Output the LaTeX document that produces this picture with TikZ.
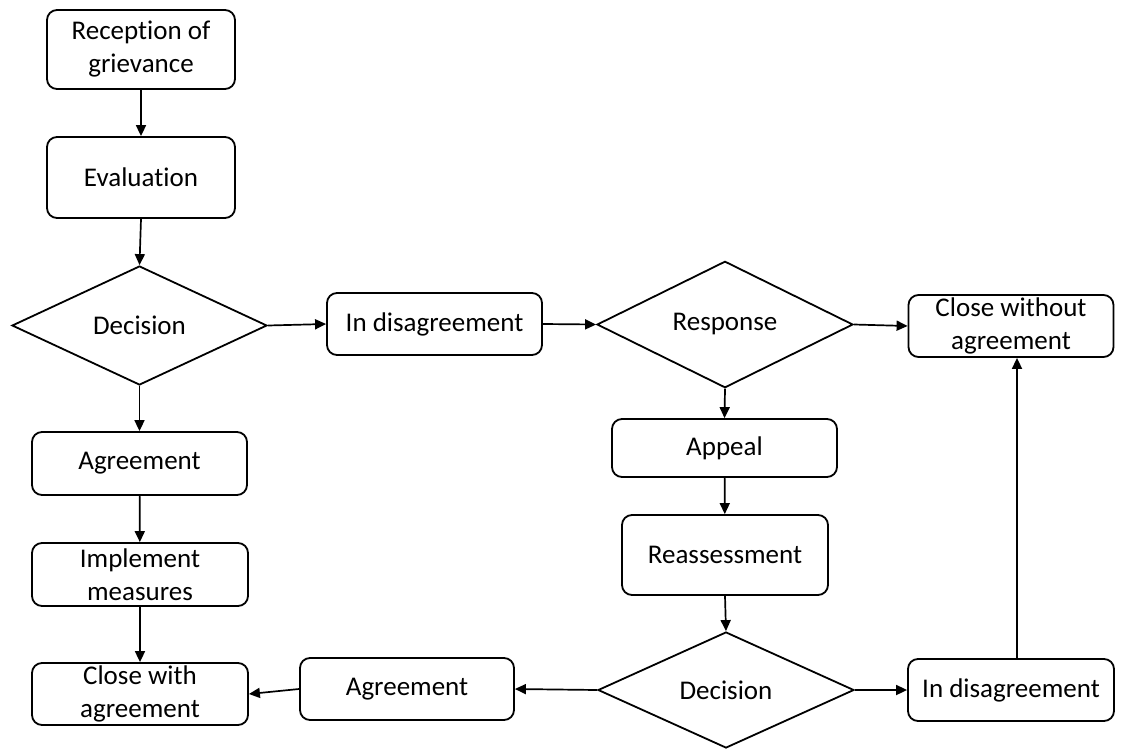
\documentclass[tikz,border=0pt]{standalone}
\usepackage{fontspec}
\setmainfont{Carlito}[Ligatures=NoCommon]
\usetikzlibrary{shapes.geometric,arrows.meta}
\begin{document}
\begin{tikzpicture}[x=1pt,y=-1pt,
  box/.style={draw, line width=1.8pt, rounded corners=10pt, align=center, inner sep=0pt,
              font=\fontsize{27}{33}\selectfont},
  dia/.style={draw, diamond, line width=1.8pt, inner sep=0pt, align=center,
              font=\fontsize{27}{33}\selectfont},
  arr/.style={line width=1.7pt, -{Triangle[length=11pt,width=10pt]}}]
\useasboundingbox (0,0) rectangle (1122,750);
\node[box, minimum width=188pt, minimum height=79pt] (rec) at (141,49.5) {Reception of\\grievance};
\node[box, minimum width=188pt, minimum height=81pt] (eval) at (141,177.5) {Evaluation};
\node[dia, minimum width=255pt, minimum height=119pt] (dec1) at (139.5,325.5) {Decision};
\node[box, minimum width=215pt, minimum height=62pt] (dis1) at (434.5,324) {In disagreement};
\node[dia, minimum width=256pt, minimum height=119pt] (resp) at (725,324.5) {Response};
\node[box, minimum width=205pt, minimum height=62pt] (close2) at (1011,326) {Close without\\agreement};
\node[box, minimum width=215pt, minimum height=63pt] (agr1) at (139.5,463.5) {Agreement};
\node[box, minimum width=216pt, minimum height=63pt] (impl) at (140,574.5) {Implement\\measures};
\node[box, minimum width=216pt, minimum height=62pt] (close1) at (140,694) {Close with\\agreement};
\node[box, minimum width=214pt, minimum height=62pt] (agr2) at (407,689) {Agreement};
\node[dia, minimum width=256pt, minimum height=116pt] (dec2) at (726,690) {Decision};
\node[box, minimum width=206pt, minimum height=62pt] (dis2) at (1011,690) {In disagreement};
\node[box, minimum width=225pt, minimum height=58pt] (appeal) at (724.5,448) {Appeal};
\node[box, minimum width=206pt, minimum height=80pt] (reass) at (725,555) {Reassessment};

\draw[arr] (rec) -- (eval);
\draw[arr] (eval.south) -- (dec1.north);
\draw[arr] (dec1.east) -- (dis1.west);
\draw[arr] (dis1.east) -- (resp.west);
\draw[arr] (resp.east) -- (close2.west);
\draw[arr] (dec1.south) -- (agr1.north);
\draw[arr] (agr1) -- (impl);
\draw[arr] (impl) -- (close1);
\draw[arr] (resp.south) -- (appeal.north);
\draw[arr] (appeal) -- (reass);
\draw[arr] (reass.south) -- (dec2.north);
\draw[arr] (dec2.west) -- (agr2.east);
\draw[arr] (agr2.west) -- (close1.east);
\draw[arr] (dec2.east) -- (dis2.west);
\draw[arr] ([xshift=6pt]dis2.north) -- ([xshift=6pt]close2.south);
\end{tikzpicture}
\end{document}
